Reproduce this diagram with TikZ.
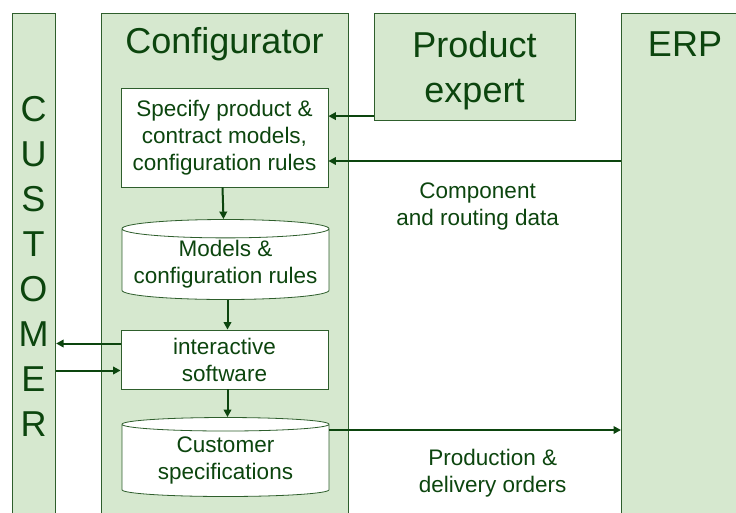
\documentclass[tikz,border=0pt]{standalone}
\usepackage{fontspec}
\setmainfont{Liberation Sans}
\usetikzlibrary{arrows.meta,positioning,shapes.geometric}
\definecolor{cfgInk}{HTML}{0C450E}
\definecolor{cfgLine}{HTML}{2E5E2C}
\definecolor{cfgFill}{HTML}{D6E8CF}
\tikzset{
  every picture/.style={font=\fontsize{22.5}{27}\selectfont, text=cfgInk},
  cfg lane/.style={draw=cfgLine, line width=1.1pt, fill=cfgFill, anchor=north west},
  cfg title/.style={font=\fontsize{36}{45}\selectfont, align=center, inner sep=0pt},
  cfg box/.style={draw=cfgLine, line width=0.8pt, fill=white, align=center,
    minimum width=207pt, inner sep=0pt},
  cfg store/.style={cylinder, shape border rotate=90, aspect=0.1,
    draw=cfgLine, line width=0.8pt, fill=white, align=center,
    minimum width=207pt, inner sep=0pt, anchor=shape center},
  cfg flow/.style={-{Triangle[length=7.5pt,width=7.5pt]},
    draw=cfgInk, line width=2pt},
  cfg label/.style={align=center, inner sep=0pt}
}

\begin{document}
\begin{tikzpicture}[x=1pt,y=-1pt]
  \clip (0,0) rectangle (736,512);
  % swim lanes
  \node[cfg lane, minimum width=43pt, minimum height=530pt] (cust) at (12,13) {};
  \node[cfg lane, minimum width=247pt, minimum height=530pt] (conf) at (101,13) {};
  \node[cfg lane, minimum width=201pt, minimum height=107pt] (pexp) at (374,13) {};
  \node[cfg lane, minimum width=140pt, minimum height=530pt] (erp) at (621,13) {};
  \node[cfg title] (custname) at (33.5,266.5) {C\\U\\S\\T\\O\\M\\E\\R};
  \node[cfg title, anchor=base] (confname) at (224.5,53) {Configurator};
  \node[cfg title] (pexpname) at (474.5,71) {Product\\expert};
  \node[cfg title, anchor=base] (erpname) at (685,56) {ERP};

  % configurator steps
  \node[cfg box, minimum height=99pt] (spec) at (224.5,137.5)
    {Specify product \&\\contract models,\\configuration rules};
  \node[cfg store, minimum height=80pt] (models) at (225.5,259.5)
    {Models \&\\configuration rules};
  \node[cfg box, minimum height=59pt] (inter) at (224.5,359.5)
    {interactive\\software};
  \node[cfg store, minimum height=79pt] (cspec) at (225.5,457)
    {Customer\\specifications};

  % flows
  \coordinate (pexpout) at ([yshift=5pt]pexp.south west);
  \coordinate (erpin) at ([yshift=-23.5pt]spec.east);
  \coordinate (custin) at ([yshift=16pt]inter.west);
  \coordinate (custout) at ([yshift=-11pt]inter.west);
  \coordinate (ordout) at ([yshift=27pt]cspec.shape center -| cspec.east);
  \draw[cfg flow] (pexpout) -- (spec.east |- pexpout);
  \draw[cfg flow] (erp.west |- erpin) -- (erpin)
    node[cfg label, pos=0.49, below=21pt] {Component\\and routing data};
  \draw[cfg flow] ([xshift=-2pt]spec.south) -- ([xshift=-2pt]models.north);
  \draw[cfg flow] ([xshift=2pt]models.south) -- ([xshift=3pt]inter.north);
  \draw[cfg flow] (custin) -- (cust.east |- custin);
  \draw[cfg flow] (cust.east |- custout) -- (custout);
  \draw[cfg flow] ([xshift=3pt]inter.south) -- ([xshift=2pt]cspec.north);
  \draw[cfg flow] (ordout) -- (erp.west |- ordout)
    node[cfg label, pos=0.56, below=18pt] {Production \&\\delivery orders};
\end{tikzpicture}
\end{document}
